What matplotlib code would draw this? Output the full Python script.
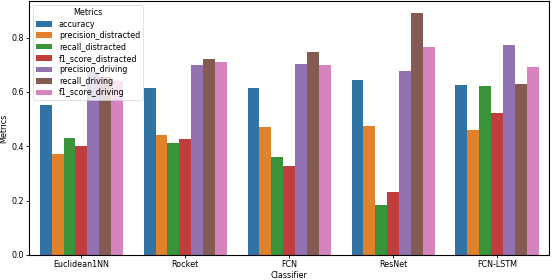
import matplotlib
matplotlib.use("Agg")
import matplotlib.pyplot as plt
import pandas as pd
import seaborn as sns

classifiers = ["Euclidean1NN", "Rocket", "FCN", "ResNet", "FCN-LSTM"]
metrics = ["accuracy", "precision_distracted", "recall_distracted",
           "f1_score_distracted", "precision_driving", "recall_driving",
           "f1_score_driving"]

# one list per metric, in classifier order
accuracy = [0.551, 0.615, 0.613, 0.645, 0.626]
precision_distracted = [0.371, 0.440, 0.471, 0.474, 0.458]
recall_distracted = [0.432, 0.411, 0.361, 0.183, 0.620]
f1_score_distracted = [0.399, 0.425, 0.326, 0.231, 0.522]
precision_driving = [0.672, 0.700, 0.703, 0.676, 0.774]
recall_driving = [0.655, 0.722, 0.747, 0.889, 0.630]
f1_score_driving = [0.642, 0.710, 0.698, 0.766, 0.691]

values = [accuracy, precision_distracted, recall_distracted,
          f1_score_distracted, precision_driving, recall_driving,
          f1_score_driving]

# long format for seaborn
rows = []
for m, vals in zip(metrics, values):
    for c, v in zip(classifiers, vals):
        rows.append({"Classifier": c, "Metrics": m, "Value": v})
df = pd.DataFrame(rows)

fs = 5.8
fig, ax = plt.subplots(figsize=(5.54, 2.8), dpi=100)
fig.subplots_adjust(left=0.053, right=0.991, top=0.995, bottom=0.09)

sns.barplot(data=df, x="Classifier", y="Value", hue="Metrics",
            order=classifiers, hue_order=metrics, errorbar=None, ax=ax)

ax.set_xlabel("Classifier", fontsize=fs, labelpad=1)
ax.set_ylabel("Metrics", fontsize=fs, labelpad=2)
ax.tick_params(labelsize=fs, length=2.5, width=0.6, pad=1.5)
for s in ax.spines.values():
    s.set_linewidth(0.8)

leg = ax.legend(title="Metrics", loc="upper left", fontsize=fs,
                title_fontsize=fs, borderpad=0.35, labelspacing=0.3,
                handlelength=2.0, handleheight=0.7)
leg.get_frame().set_linewidth(0.5)

fig.savefig("out.png", dpi=100)
